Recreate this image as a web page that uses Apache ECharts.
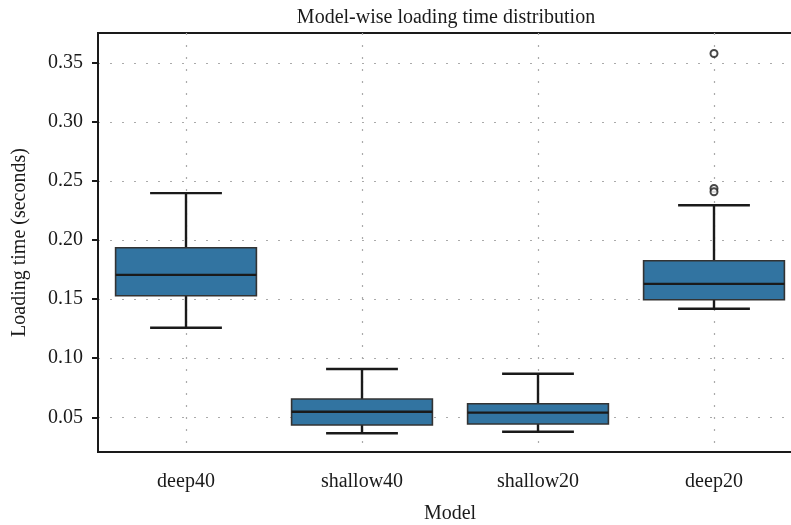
<!DOCTYPE html>
<html>
<head>
<meta charset="utf-8">
<script src="https://cdn.jsdelivr.net/npm/echarts@6/dist/echarts.min.js"></script>
<style>
  html, body { margin: 0; padding: 0; background: #fff; }
  #chart { width: 791px; height: 525px; }
</style>
</head>
<body>
<div id="chart"></div>
<script>
const models = ["deep40", "shallow40", "shallow20", "deep20"]
const whiskerLow = [0.1258, 0.0365, 0.0378, 0.1419]
const quart1 = [0.1529, 0.0435, 0.0443, 0.1495]
const median = [0.1706, 0.0547, 0.0539, 0.1630]
const quart3 = [0.1935, 0.0655, 0.0615, 0.1825]
const whiskerHigh = [0.2398, 0.0909, 0.0869, 0.2296]
const outlierModel = ["deep20", "deep20", "deep20"]
const outlierValue = [0.358, 0.2437, 0.2409]
const yTicks = [0.05, 0.10, 0.15, 0.20, 0.25, 0.30, 0.35]

const ink = "#1a1a1a"
const font = "'Liberation Serif', 'DejaVu Serif', serif"

const boxData = models.map((m, i) => [i, whiskerLow[i], quart1[i], median[i], quart3[i], whiskerHigh[i]])
const outlierData = outlierValue.map((v, i) => [models.indexOf(outlierModel[i]), v])

function renderBox(params, api) {
  const i = api.value(0)
  const lo = api.coord([i, api.value(1)])
  const q1 = api.coord([i, api.value(2)])
  const med = api.coord([i, api.value(3)])
  const q3 = api.coord([i, api.value(4)])
  const hi = api.coord([i, api.value(5)])
  const band = api.size([1, 0])[0]
  const bw = band * 0.8
  const cw = bw * 0.51
  const x = lo[0]
  const line = { stroke: ink, lineWidth: 2.4 }
  return {
    type: "group",
    children: [
      { type: "line", shape: { x1: x, y1: hi[1], x2: x, y2: q3[1] }, style: line },
      { type: "line", shape: { x1: x, y1: q1[1], x2: x, y2: lo[1] }, style: line },
      { type: "line", shape: { x1: x - cw / 2, y1: hi[1], x2: x + cw / 2, y2: hi[1] }, style: line },
      { type: "line", shape: { x1: x - cw / 2, y1: lo[1], x2: x + cw / 2, y2: lo[1] }, style: line },
      {
        type: "rect",
        shape: { x: x - bw / 2, y: q3[1], width: bw, height: q1[1] - q3[1] },
        style: { fill: "#3274a1", stroke: "#333333", lineWidth: 1.6 }
      },
      { type: "line", shape: { x1: x - bw / 2, y1: med[1], x2: x + bw / 2, y2: med[1] }, style: line }
    ]
  }
}

const chart = echarts.init(document.getElementById("chart"))
const option = {
  animation: false,
  backgroundColor: "#fff",
  textStyle: { fontFamily: font, color: ink },
  title: {
    text: "Model-wise loading time distribution",
    left: 441,
    top: 3,
    textAlign: "center",
    textStyle: { fontFamily: font, fontSize: 20, fontWeight: "normal", color: ink }
  },
  grid: {
    left: 98,
    right: -11,
    top: 33,
    bottom: 73,
    outerBoundsMode: "none",
    containLabel: false,
    show: true,
    borderColor: ink,
    borderWidth: 2
  },
  xAxis: {
    type: "category",
    data: models,
    boundaryGap: true,
    name: "Model",
    nameLocation: "middle",
    nameGap: 52,
    nameTextStyle: { fontFamily: font, fontSize: 20, color: ink },
    axisLine: { lineStyle: { color: ink, width: 2 } },
    axisTick: { alignWithLabel: true, length: 6, lineStyle: { color: ink, width: 2 } },
    axisLabel: { fontFamily: font, fontSize: 20, color: ink, margin: 20 },
    splitLine: {
      show: true,
      alignWithLabel: true,
      lineStyle: { color: "#aaaaaa", width: 1.2, type: [2, 10] }
    }
  },
  yAxis: {
    type: "value",
    min: 0.0206,
    max: 0.3754,
    splitNumber: 7,
    name: "Loading time (seconds)",
    nameLocation: "middle",
    nameGap: 68,
    nameTextStyle: { fontFamily: font, fontSize: 20, color: ink },
    axisLine: { show: true, lineStyle: { color: ink, width: 2 } },
    axisTick: { show: true, length: 6, customValues: yTicks, lineStyle: { color: ink, width: 2 } },
    axisLabel: {
      fontFamily: font,
      fontSize: 20,
      color: ink,
      margin: 15,
      customValues: yTicks,
      formatter: v => v.toFixed(2)
    },
    splitLine: { show: true, lineStyle: { color: "#aaaaaa", width: 1.2, type: [2, 10] } }
  },
  series: [
    {
      type: "custom",
      renderItem: renderBox,
      encode: { x: 0, y: [1, 2, 3, 4, 5] },
      data: boxData,
      z: 3
    },
    {
      type: "scatter",
      data: outlierData,
      symbol: "emptyCircle",
      symbolSize: 7,
      itemStyle: { color: ink, borderColor: ink, borderWidth: 1.3 },
      z: 4
    }
  ]
}
chart.setOption(option)
</script>
</body>
</html>
